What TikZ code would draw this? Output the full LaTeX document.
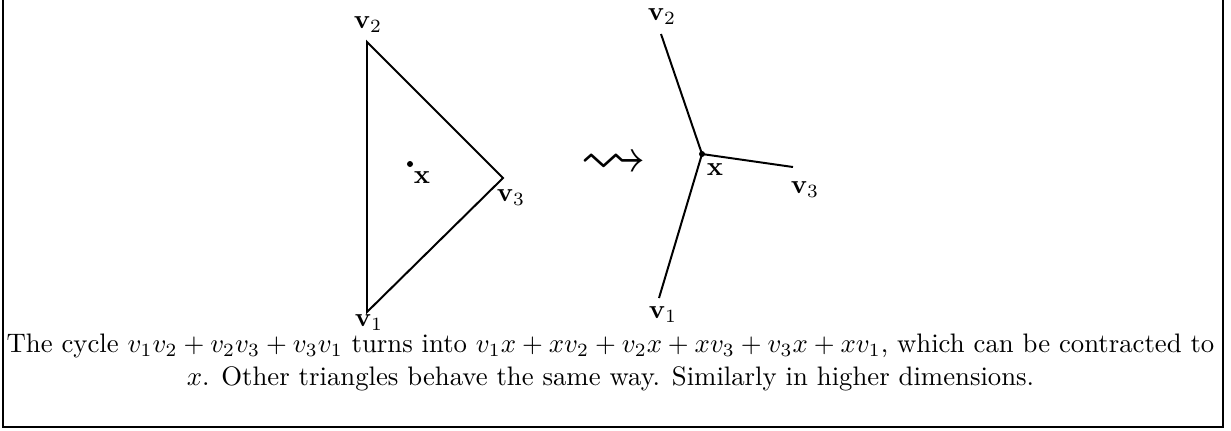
\documentclass[tikz,border=0pt]{standalone}
\usepackage{amssymb}
\begin{document}
\begin{tikzpicture}[x=0.42857pt,y=-0.42857pt,
  edge/.style={line width=0.85pt},
  lab/.style={inner sep=0pt,scale=1.146},
  dot/.style={radius=3}]
\useasboundingbox (0,0) rectangle (1231,430);
\draw[line width=0.6pt] (3,-3) rectangle (1223,427);
% triangle
\coordinate (a1) at (367,312);
\coordinate (a2) at (367,42);
\coordinate (a3) at (503,178);
\coordinate (ax) at (410,164);
\draw[edge,line join=miter] (a1) -- (a2) -- (a3) -- cycle;
\fill[dot] (ax) circle;
\node[lab] (ax lab) at (422,178) {$\mathbf{x}$};
\node[lab] (a2 lab) at (368,25) {$\mathbf{v}_2$};
\node[lab] (a3 lab) at (511,198) {$\mathbf{v}_3$};
\node[lab] (a1 lab) at (369,323) {$\mathbf{v}_1$};
% squiggle arrow
\node[lab,font=\Huge] (sq) at (613.5,165) {$\rightsquigarrow$};
% star
\coordinate (bx) at (702,154);
\coordinate (b2) at (661,34);
\coordinate (b3) at (793,167);
\coordinate (b1) at (659,298);
\draw[edge] (bx) -- (b2);
\draw[edge] (bx) -- (b3);
\draw[edge] (bx) -- (b1);
\fill[dot] (bx) circle;
\node[lab] (bx lab) at (715,170) {$\mathbf{x}$};
\node[lab] (b2 lab) at (662,17) {$\mathbf{v}_2$};
\node[lab] (b3 lab) at (805,190) {$\mathbf{v}_3$};
\node[lab] (b1 lab) at (663,315) {$\mathbf{v}_1$};
% caption
\node[lab,align=center,anchor=base] (cap) at (610.5,385) {The cycle $v_1v_2+v_2v_3+v_3v_1$ turns into $v_1x+xv_2+v_2x+xv_3+v_3x+xv_1$, which can be contracted to\\ $x$. Other triangles behave the same way. Similarly in higher dimensions.};
\end{tikzpicture}
\end{document}
